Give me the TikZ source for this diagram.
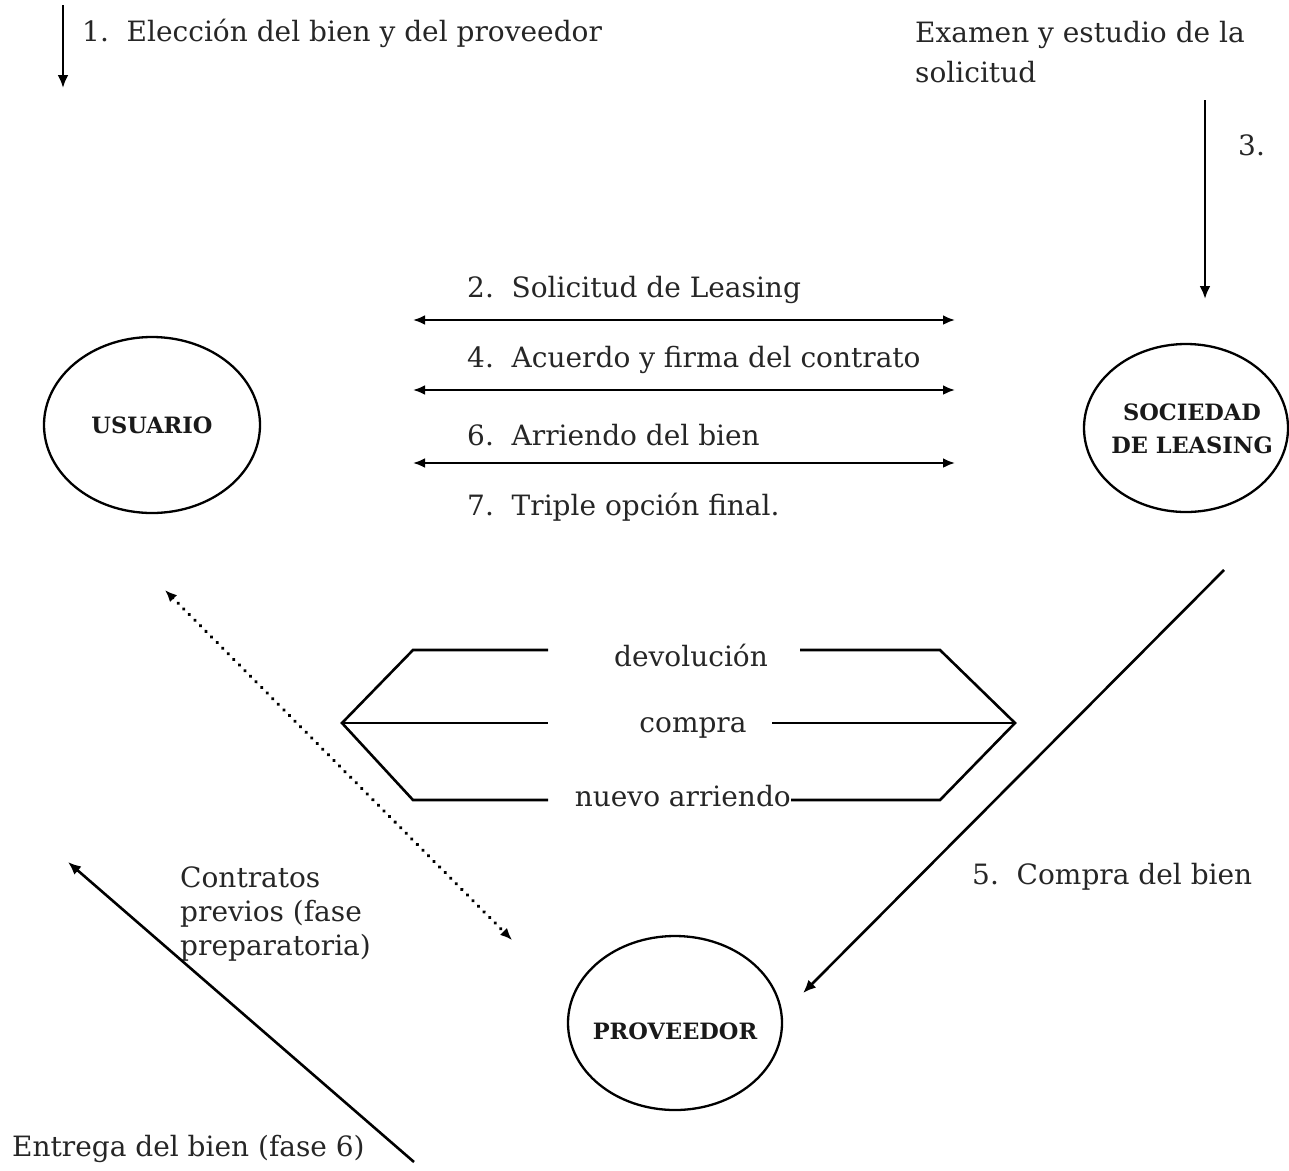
\documentclass[tikz,border=0pt]{standalone}
\usepackage{fontspec}
\setmainfont{DejaVu Serif}
\usetikzlibrary{arrows.meta,shapes.geometric}
\begin{document}
\begin{tikzpicture}[x=1pt,y=-1pt,
  lbl/.style={font=\fontsize{28}{40}\selectfont, inner sep=0pt, anchor=west, text=black!85},
  ent/.style={draw, ellipse, line width=2.3pt, inner sep=0pt},
  entlbl/.style={inner sep=0pt, align=center, text=black!90,
              font=\fontsize{22.5}{33}\selectfont\bfseries},
  conn/.style={line width=2.6pt},
  tip/.style={-{Latex[length=13pt,width=11pt]}},
  tips/.style={{Latex[length=12pt,width=10pt]}-{Latex[length=12pt,width=10pt]}},
  dots/.style={line width=3.8pt, line cap=round, dash pattern=on 0.1pt off 7.8pt}]
\useasboundingbox (0,0) rectangle (1289,1170);

% entities
\node[ent, minimum width=216pt, minimum height=176pt] (usuario) at (152,425) {};
\node[entlbl] (usuariot) at (usuario) {USUARIO};
\node[ent, minimum width=204pt, minimum height=168pt] (sociedad) at (1186,428) {};
\node[entlbl] (sociedadt) at (1192,429) {SOCIEDAD\\DE LEASING};
\node[ent, minimum width=214pt, minimum height=174pt] (proveedor) at (675,1023) {};
\node[entlbl] (proveedort) at (675,1031) {PROVEEDOR};

% top texts
\node[lbl] (t1) at (82,33) {1.\ \ Elección del bien y del proveedor};
\node[lbl, anchor=north west, align=left] (texam) at (915,21) {Examen y estudio de la\\solicitud};
\node[lbl] (t3) at (1238,145) {3.};

% step arrows
\coordinate (a1s) at (63,5);   \coordinate (a1e) at (63,88);
\draw[conn,tip] (a1s) -- (a1e);
\coordinate (a3s) at (1205,100); \coordinate (a3e) at (1205,299);
\draw[conn,tip] (a3s) -- (a3e);

% horizontal exchanges
\node[lbl] (t2) at (467,290) {2.\ \ Solicitud de Leasing};
\node[lbl] (t4) at (467,360) {4.\ \ Acuerdo y firma del contrato};
\node[lbl] (t6) at (467,435) {6.\ \ Arriendo del bien};
\node[lbl] (t7) at (467,507) {7.\ \ Triple opción final.};
\coordinate (h2l) at (413,320); \coordinate (h2r) at (955,320);
\coordinate (h4l) at (413,390); \coordinate (h4r) at (955,390);
\coordinate (h6l) at (413,463); \coordinate (h6r) at (955,463);
\draw[conn,tips] (h2l) -- (h2r);
\draw[conn,tips] (h4l) -- (h4r);
\draw[conn,tips] (h6l) -- (h6r);

% triple option hexagon
\node[lbl, anchor=center] (odev) at (691,655) {devolución};
\node[lbl, anchor=center] (ocom) at (693,728) {compra};
\node[lbl, anchor=east] (onue) at (791,796) {nuevo arriendo};
\coordinate (hl) at (342,723); \coordinate (hr) at (1015,723);
\coordinate (nb) at (940,800);
\draw[conn] (548,650) -- (413,650) -- (hl) -- (413,800) -- (548,800);
\draw[conn] (hl) -- (548,723);
\draw[conn] (800,650) -- (940,650) -- (hr) -- (nb) -- (onue.east |- nb);
\draw[conn] (772,723) -- (hr);

% diagonal arrows
\coordinate (d1) at (165,590); \coordinate (d2) at (512,940);
\draw[dots,tips] (d1) -- (d2);
\coordinate (c5s) at (1224,570); \coordinate (c5e) at (803,993);
\draw[conn,tip] (c5s) -- (c5e);
\node[lbl] (t5) at (972,877) {5.\ \ Compra del bien};

\node[lbl, anchor=north west, align=left, font=\fontsize{28}{34}\selectfont] (tcon) at (180,867) {Contratos\\previos (fase\\preparatoria)};
\coordinate (ens) at (414,1162); \coordinate (ene) at (68,862);
\draw[conn,tip] (ens) -- (ene);
\node[lbl] (tent) at (12,1149) {Entrega del bien (fase 6)};
\end{tikzpicture}
\end{document}
